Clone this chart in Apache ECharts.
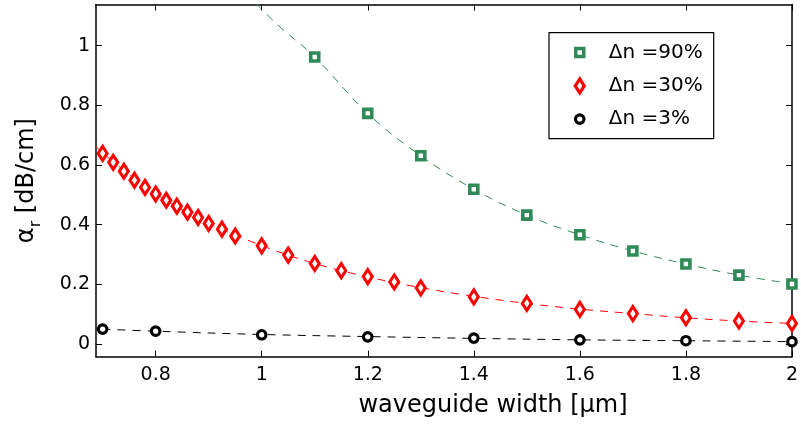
<!DOCTYPE html>
<html><head><meta charset="utf-8">
<script src="https://cdn.jsdelivr.net/npm/echarts@6/dist/echarts.min.js"></script>
<style>html,body{margin:0;padding:0;background:#fff}#c{width:801px;height:429px}</style>
</head><body><div id="c"></div>
<script>
const xTicks = [0.8, 1, 1.2, 1.4, 1.6, 1.8, 2];
const yTicks = [0, 0.2, 0.4, 0.6, 0.8, 1];

// Δn = 90%
const greenX = [1.1, 1.2, 1.3, 1.4, 1.5, 1.6, 1.7, 1.8, 1.9, 2.0];
const greenY = [0.962, 0.773, 0.631, 0.519, 0.432, 0.366, 0.312, 0.268, 0.231, 0.201];
// Δn = 30%
const redX = [0.70, 0.72, 0.74, 0.76, 0.78, 0.80, 0.82, 0.84, 0.86, 0.88, 0.90, 0.925, 0.95, 1.0, 1.05, 1.1, 1.15, 1.2, 1.25, 1.3, 1.4, 1.5, 1.6, 1.7, 1.8, 1.9, 2.0];
const redY = [0.639, 0.609, 0.579, 0.549, 0.525, 0.503, 0.482, 0.462, 0.442, 0.424, 0.404, 0.385, 0.362, 0.329, 0.298, 0.270, 0.246, 0.226, 0.208, 0.188, 0.158, 0.136, 0.116, 0.102, 0.088, 0.077, 0.069];
// Δn = 3%
const blackX = [0.7, 0.8, 1.0, 1.2, 1.4, 1.6, 1.8, 2.0];
const blackY = [0.050, 0.043, 0.031, 0.024, 0.020, 0.014, 0.011, 0.008];

// fitted (dashed) curves
const greenFitX = [0.99, 1.03, 1.1, 1.2, 1.3, 1.4, 1.5, 1.6, 1.7, 1.8, 1.9, 2.0];
const greenFitY = [1.14, 1.07, 0.962, 0.773, 0.631, 0.519, 0.432, 0.366, 0.312, 0.268, 0.231, 0.202];
const redFitX = [0.6875, 0.7, 0.8, 0.9, 1.0, 1.1, 1.2, 1.3, 1.4, 1.5, 1.6, 1.7, 1.8, 1.9, 2.0];
const redFitY = [0.662, 0.640, 0.503, 0.405, 0.330, 0.270, 0.225, 0.189, 0.160, 0.136, 0.117, 0.102, 0.088, 0.077, 0.069];
const blackFitX = [0.7, 0.8, 1.0, 1.2, 1.4, 1.6, 1.8, 2.0];
const blackFitY = [0.050, 0.043, 0.032, 0.025, 0.019, 0.014, 0.011, 0.008];

const names = ['Δn =90%', 'Δn =30%', 'Δn =3%'];
const zip = (a, b) => a.map((v, i) => [v, b[i]]);
const FONT = 'DejaVu Sans';
const GREEN = '#2e8b57', RED = '#ff0000', BLACK = '#000000';

const chart = echarts.init(document.getElementById('c'), null, {renderer: 'canvas'});
const axisCommon = {
  axisLine: {show: true, onZero: false, lineStyle: {color: '#000', width: 1.5}},
  axisTick: {inside: true, length: 6, lineStyle: {color: '#000', width: 1}},
  splitLine: {show: false}
};
function fitLine(name, x, y, color) {
  return {type: 'line', name: name, data: zip(x, y), smooth: 0.4, showSymbol: false, symbol: 'none',
    lineStyle: {color: color, width: 1, type: [8, 7]}, z: 1, silent: true};
}
function markers(name, x, y, symbol, size, color, bw) {
  return {type: 'scatter', name: name, data: zip(x, y), symbol: symbol, symbolSize: size,
    itemStyle: {color: '#fff', borderColor: color, borderWidth: bw, opacity: 1}, z: 3};
}
chart.setOption({
  animation: false,
  backgroundColor: '#fff',
  grid: {left: 96, top: 4.5, width: 700, height: 352.2, containLabel: false},
  xAxis: [
    Object.assign({}, axisCommon, {type: 'value', min: 0.6875, max: 2, position: 'bottom',
      axisTick: Object.assign({}, axisCommon.axisTick, {customValues: xTicks}),
      axisLabel: {customValues: xTicks, fontFamily: FONT, fontSize: 19, color: '#000', margin: 9},
      name: 'waveguide width [μm]', nameLocation: 'middle', nameGap: 37,
      nameTextStyle: {fontFamily: FONT, fontSize: 24, color: '#000', padding: [0, 0, 0, 98]}}),
    Object.assign({}, axisCommon, {type: 'value', min: 0.6875, max: 2, position: 'top',
      axisTick: Object.assign({}, axisCommon.axisTick, {customValues: xTicks}),
      axisLabel: {show: false}})
  ],
  yAxis: [
    Object.assign({}, axisCommon, {type: 'value', min: -0.0425, max: 1.138, position: 'left',
      axisTick: Object.assign({}, axisCommon.axisTick, {customValues: yTicks}),
      axisLabel: {customValues: yTicks, fontFamily: FONT, fontSize: 19, color: '#000', margin: 6},
      name: '{a|α}{b|r}{a| [dB/cm]}', nameLocation: 'middle', nameGap: 52, nameRotate: 90,
      nameTextStyle: {fontFamily: FONT, color: '#000',
        rich: {a: {fontFamily: FONT, fontSize: 24, lineHeight: 34, color: '#000'},
               b: {fontFamily: FONT, fontSize: 16, lineHeight: 16, verticalAlign: 'bottom', color: '#000'}}}}),
    Object.assign({}, axisCommon, {type: 'value', min: -0.0425, max: 1.138, position: 'right',
      axisTick: Object.assign({}, axisCommon.axisTick, {customValues: yTicks}),
      axisLabel: {show: false}})
  ],
  legend: {
    orient: 'vertical', left: 549, top: 32.7,
    padding: [9.6, 11, 9.4, 22], itemGap: 13, itemWidth: 14, itemHeight: 17,
    borderColor: '#000', borderWidth: 1.2, backgroundColor: '#fff',
    textStyle: {fontFamily: FONT, fontSize: 20, lineHeight: 20, color: '#000', padding: [0, 0, 0, 17]},
    selectedMode: false,
    data: [
      {name: names[0], icon: 'path://M0,0M14,17M3,4.5h8v8h-8z', itemStyle: {color: '#fff', borderColor: GREEN, borderWidth: 3.5}},
      {name: names[1], icon: 'path://M0,0M14,17M7,1.5L11.5,8.5L7,15.5L2.5,8.5z', itemStyle: {color: '#fff', borderColor: RED, borderWidth: 3.2}},
      {name: names[2], icon: 'path://M0,0M14,17M2.75,8.5a4.25,4.25 0 1,0 8.5,0a4.25,4.25 0 1,0 -8.5,0z', itemStyle: {color: '#fff', borderColor: BLACK, borderWidth: 3.2}}
    ]
  },
  series: [
    fitLine('fit90', greenFitX, greenFitY, GREEN),
    fitLine('fit30', redFitX, redFitY, RED),
    fitLine('fit3', blackFitX, blackFitY, BLACK),
    markers(names[0], greenX, greenY, 'rect', 8, GREEN, 3.6),
    markers(names[1], redX, redY, 'diamond', [9, 14], RED, 3.2),
    markers(names[2], blackX, blackY, 'circle', 8.5, BLACK, 3.2)
  ]
});
</script></body></html>
